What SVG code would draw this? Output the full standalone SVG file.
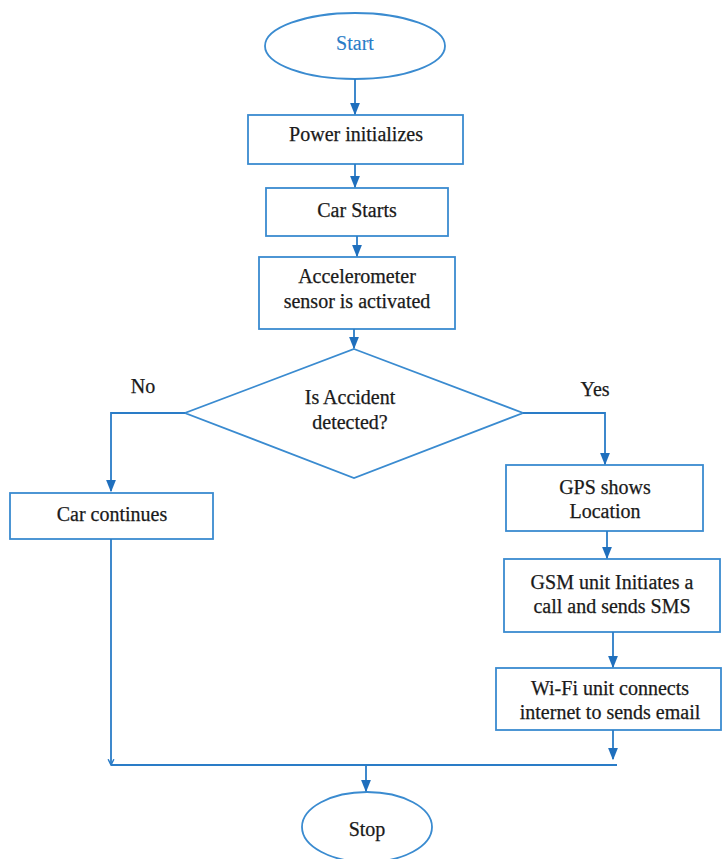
<svg xmlns="http://www.w3.org/2000/svg" width="722" height="859" viewBox="0 0 722 859">
<style>
.n{fill:#fff;stroke:#3a8bd0;stroke-width:1.8}
.t{font-family:'Liberation Serif','DejaVu Serif','Times New Roman',serif;font-size:20px;fill:#1a1a1a;text-anchor:middle;stroke:#1a1a1a;stroke-width:0.25}
.c{fill:none;stroke:#2a7cc7;stroke-width:1.8}
</style>
<defs>
<marker id="a" viewBox="0 0 10 10" refX="9" refY="5" markerWidth="7" markerHeight="7" orient="auto" markerUnits="strokeWidth"><path d="M0,1 L10,5 L0,9 Z" fill="#1f6fbd"/></marker>
<marker id="o" viewBox="0 0 10 10" refX="9" refY="5" markerWidth="4" markerHeight="4" orient="auto" markerUnits="strokeWidth"><path d="M1,1 L9,5 L1,9" fill="none" stroke="#2a7cc7" stroke-width="2"/></marker>
</defs>
<rect width="722" height="859" fill="#fff"/>
<g id="start"><ellipse class="n" cx="355" cy="46" rx="90" ry="33"/><text class="t" x="355" y="50" style="fill:#2a7cc7;stroke:#2a7cc7;stroke-width:0.1">Start</text></g>
<g id="power"><rect class="n" x="248" y="115" width="215" height="49"/><text class="t" x="356" y="141">Power initializes</text></g>
<g id="carstarts"><rect class="n" x="266" y="188" width="182" height="48"/><text class="t" x="357" y="217">Car Starts</text></g>
<g id="accel"><rect class="n" x="259" y="257" width="196" height="72"/><text class="t" x="357" y="283">Accelerometer</text><text class="t" x="357" y="308">sensor is activated</text></g>
<g id="decision"><polygon class="n" points="354,349 523,413 354,478 185,413"/><text class="t" x="350" y="404">Is Accident</text><text class="t" x="350" y="429">detected?</text></g>
<g id="continues"><rect class="n" x="10" y="493" width="203" height="46"/><text class="t" x="112" y="521">Car continues</text></g>
<g id="gps"><rect class="n" x="506" y="465" width="197" height="66"/><text class="t" x="605" y="494">GPS shows</text><text class="t" x="605" y="518">Location</text></g>
<g id="gsm"><rect class="n" x="504" y="559" width="216" height="73"/><text class="t" x="612" y="589">GSM unit Initiates a</text><text class="t" x="612" y="613">call and sends SMS</text></g>
<g id="wifi"><rect class="n" x="496" y="668" width="225" height="62"/><text class="t" x="610" y="695">Wi-Fi unit connects</text><text class="t" x="610" y="719">internet to sends email</text></g>
<g id="stop"><ellipse class="n" cx="367" cy="827" rx="65" ry="35"/><text class="t" x="367" y="836">Stop</text></g>
<g id="labels"><text class="t" x="143" y="393">No</text><text class="t" x="595" y="396">Yes</text></g>
<g id="connectors">
<path class="c" d="M355,79 V114" marker-end="url(#a)"/>
<path class="c" d="M355,164 V187" marker-end="url(#a)"/>
<path class="c" d="M357,236 V256" marker-end="url(#a)"/>
<path class="c" d="M354,329 V348" marker-end="url(#a)"/>
<path class="c" d="M185,413 H111 V491" marker-end="url(#a)"/>
<path class="c" d="M523,413 H605 V464" marker-end="url(#a)"/>
<path class="c" d="M607,531 V558" marker-end="url(#a)"/>
<path class="c" d="M613,632 V667" marker-end="url(#a)"/>
<path class="c" d="M613,730 V759" marker-end="url(#a)"/>
<path class="c" d="M111,539 V765" marker-end="url(#o)"/>
<path class="c" d="M111,765 H617"/>
<path class="c" d="M366,764 V791" marker-end="url(#a)"/>
</g>
</svg>
